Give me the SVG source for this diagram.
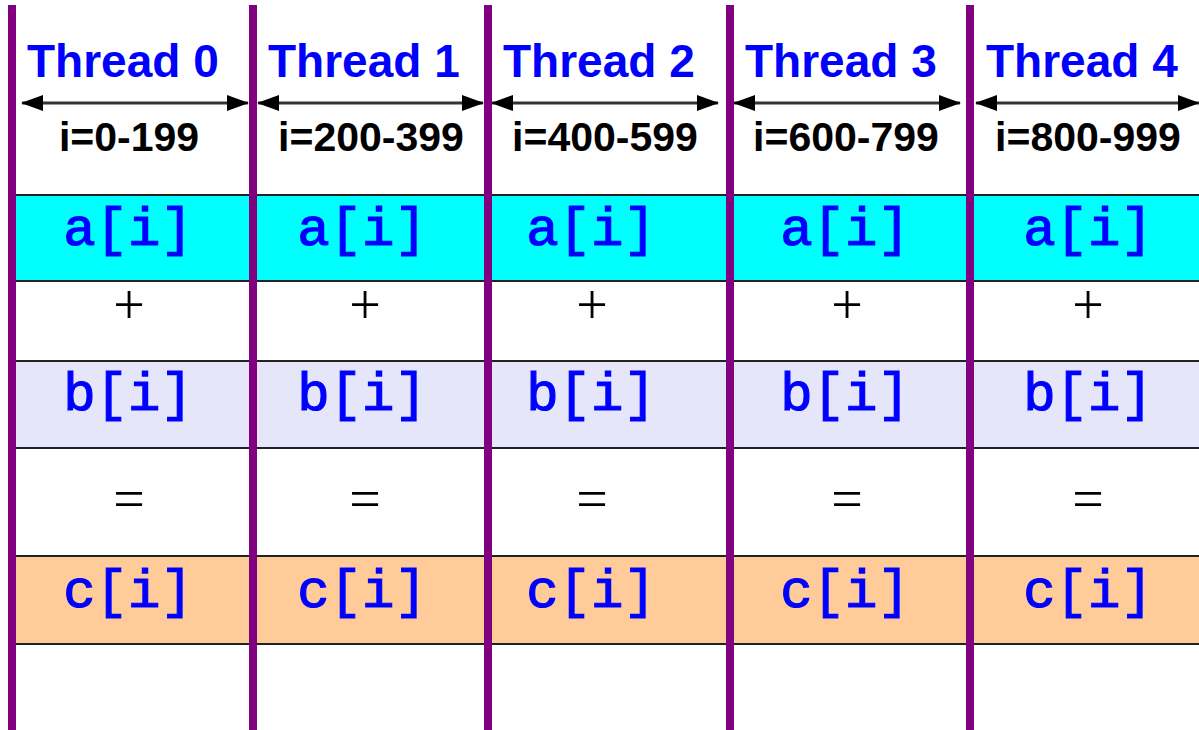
<svg xmlns="http://www.w3.org/2000/svg" width="1199" height="730" viewBox="0 0 1199 730">
<style>
.th{font-family:"Liberation Sans",Arial,sans-serif;font-weight:bold;font-size:46px;fill:#0000FF}
.rg{font-family:"Liberation Sans",Arial,sans-serif;font-weight:bold;font-size:41px;fill:#000;text-anchor:middle}
.cd{font-family:"Liberation Mono","Courier New",monospace;font-weight:normal;font-size:54px;fill:#0000FF;stroke:#0000FF;stroke-width:1.2px;text-anchor:middle}
.op{font-family:"Liberation Serif","Times New Roman",serif;font-size:56px;fill:#000;text-anchor:middle}
.sep{stroke:#800080;stroke-width:8}
.hl{stroke:#222;stroke-width:2}
.ar{stroke:#333;stroke-width:3;marker-start:url(#ah);marker-end:url(#ah)}
</style>
<defs>
<marker id="ah" viewBox="0 0 22 16" refX="21" refY="8" markerWidth="22" markerHeight="16" markerUnits="userSpaceOnUse" orient="auto-start-reverse">
<path d="M0,0 L22,8 L0,16 Z" fill="#000"/>
</marker>
</defs>
<rect width="1199" height="730" fill="#fff"/>
<g id="bands">
<rect x="12" y="195" width="1187" height="86" fill="#00FFFF"/>
<rect x="12" y="361" width="1187" height="87" fill="#E6E6FA"/>
<rect x="12" y="556" width="1187" height="88" fill="#FFCC99"/>
<line class="hl" x1="12" y1="195" x2="1199" y2="195"/>
<line class="hl" x1="12" y1="281" x2="1199" y2="281"/>
<line class="hl" x1="12" y1="361" x2="1199" y2="361"/>
<line class="hl" x1="12" y1="448" x2="1199" y2="448"/>
<line class="hl" x1="12" y1="556" x2="1199" y2="556"/>
<line class="hl" x1="12" y1="644" x2="1199" y2="644"/>
</g>
<g id="connectors">
<line class="ar" x1="22" y1="103" x2="248" y2="103"/>
<line class="ar" x1="258" y1="103" x2="483" y2="103"/>
<line class="ar" x1="492" y1="103" x2="718" y2="103"/>
<line class="ar" x1="734" y1="103" x2="960" y2="103"/>
<line class="ar" x1="976" y1="103" x2="1199" y2="103"/>
</g>
<g id="separators">
<line class="sep" x1="12" y1="5" x2="12" y2="730"/>
<line class="sep" x1="253" y1="5" x2="253" y2="730"/>
<line class="sep" x1="488" y1="5" x2="488" y2="730"/>
<line class="sep" x1="730" y1="5" x2="730" y2="730"/>
<line class="sep" x1="970" y1="5" x2="970" y2="730"/>
</g>
<g id="thread0">
<text class="th" x="27" y="77">Thread 0</text>
<text class="rg" x="129" y="151">i=0-199</text>
<text class="cd" x="128" y="245">a[i]</text>
<text class="op" x="129" y="324">+</text>
<text class="cd" x="128" y="410">b[i]</text>
<text class="op" x="129" y="518">=</text>
<text class="cd" x="128" y="607">c[i]</text>
</g>
<g id="thread1">
<text class="th" x="268" y="77">Thread 1</text>
<text class="rg" x="371" y="151">i=200-399</text>
<text class="cd" x="362" y="245">a[i]</text>
<text class="op" x="365" y="324">+</text>
<text class="cd" x="362" y="410">b[i]</text>
<text class="op" x="365" y="518">=</text>
<text class="cd" x="362" y="607">c[i]</text>
</g>
<g id="thread2">
<text class="th" x="503" y="77">Thread 2</text>
<text class="rg" x="605" y="151">i=400-599</text>
<text class="cd" x="591" y="245">a[i]</text>
<text class="op" x="592" y="324">+</text>
<text class="cd" x="591" y="410">b[i]</text>
<text class="op" x="592" y="518">=</text>
<text class="cd" x="591" y="607">c[i]</text>
</g>
<g id="thread3">
<text class="th" x="745" y="77">Thread 3</text>
<text class="rg" x="846" y="151">i=600-799</text>
<text class="cd" x="845" y="245">a[i]</text>
<text class="op" x="847" y="324">+</text>
<text class="cd" x="845" y="410">b[i]</text>
<text class="op" x="847" y="518">=</text>
<text class="cd" x="845" y="607">c[i]</text>
</g>
<g id="thread4">
<text class="th" x="986" y="77">Thread 4</text>
<text class="rg" x="1088" y="151">i=800-999</text>
<text class="cd" x="1088" y="245">a[i]</text>
<text class="op" x="1088" y="324">+</text>
<text class="cd" x="1088" y="410">b[i]</text>
<text class="op" x="1088" y="518">=</text>
<text class="cd" x="1088" y="607">c[i]</text>
</g>
</svg>
